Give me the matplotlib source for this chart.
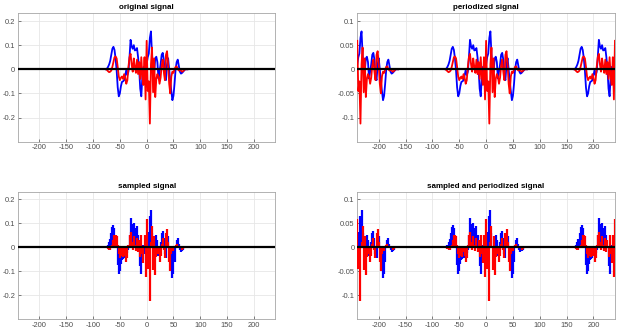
import numpy as np
import matplotlib
matplotlib.use('Agg')
import matplotlib.pyplot as plt

plt.rcParams['font.family'] = ['Liberation Sans', 'DejaVu Sans']
plt.rcParams['axes.unicode_minus'] = False

# sample positions of the original signal (step 2)
t = np.arange(-76, 77, 2)

sig_re = [0.0, 0.003, 0.01, 0.02, 0.035, 0.06, 0.085, 0.093, 0.08, 0.045,
          -0.005, -0.075, -0.112, -0.1, -0.07, -0.052, -0.05, -0.045, -0.025, -0.003,
          -0.024, -0.01, 0.05, 0.122, 0.095, 0.085, 0.1, 0.078, 0.08, 0.088,
          0.05, 0.0, -0.08, -0.112, -0.03, 0.01, -0.03, -0.052, 0.02, 0.05,
          0.065, 0.13, 0.157, 0.06, 0.0, -0.01, 0.045, 0.052, 0.03, -0.038,
          -0.01, 0.02, 0.06, 0.068, 0.04, -0.03, -0.045, 0.02, 0.046, 0.0,
          -0.05, -0.09, -0.128, -0.11, -0.06, 0.0, 0.03, 0.04, 0.015, -0.01,
          -0.018, -0.015, -0.01, -0.005, 0.0, 0.0, 0.0]

# imaginary part (red)
sig_im = [0.0, -0.003, -0.008, -0.012, -0.01, -0.005, 0.01, 0.03, 0.05, 0.053,
          0.045, 0.01, -0.03, -0.045, -0.035, -0.03, -0.04, -0.02, -0.035, -0.06,
          -0.045, 0.01, 0.05, 0.064, 0.02, -0.01, 0.045, 0.01, -0.015, 0.04,
          -0.02, 0.03, -0.04, 0.05, -0.03, -0.065, 0.05, -0.125, 0.118, -0.09,
          -0.05, -0.225, 0.02, 0.09, -0.095, 0.045, -0.115, -0.04, -0.02, -0.03,
          -0.06, -0.035, 0.015, 0.04, -0.01, -0.045, 0.06, 0.075, 0.02, -0.06,
          -0.1, -0.03, -0.01, -0.015, 0.0, 0.01, 0.012, 0.0, -0.005, -0.003,
          -0.005, -0.01, -0.008, -0.003, 0.0, 0.0, 0.0]

period = 240
period_gain = 0.5
shifts = [-1, 0, 1]

titles = ['original signal', 'periodized signal', 'sampled signal', 'sampled and periodized signal']
xticks = [-200, -150, -100, -50, 0, 50, 100, 150, 200]
yticks_orig = [-0.2, -0.1, 0, 0.1, 0.2]
ytick_labels_orig = ['-0.2', '-0.1', '0', '0.1', '0.2']
yticks_per = [-0.1, -0.05, 0, 0.05, 0.1]
ytick_labels_per = ['-0.1', '-0.05', '0', '0.05', '0.1']

re = np.array(sig_re)
im = np.array(sig_im)

# periodized copies, cut to the visible window
tp, rp, ip = [], [], []
for k in shifts:
    tt = t + k * period
    m = (tt >= -period) & (tt <= period)
    tp.append(tt[m])
    rp.append(re[m] * period_gain)
    ip.append(im[m] * period_gain)

fig = plt.figure(figsize=(6.17, 3.33), dpi=100)
pos = [[0.0292, 0.5745, 0.417, 0.3856],
       [0.579, 0.5745, 0.4177, 0.3856],
       [0.0292, 0.042, 0.417, 0.3823],
       [0.579, 0.042, 0.4177, 0.3823]]
axes = [fig.add_axes(p) for p in pos]

blue = '#0000ff'
red = '#ff0000'
stem_w = 1.6

# original
ax = axes[0]
ax.plot(t, re, color=blue, lw=1.3, zorder=3)
ax.plot(t, im, color=red, lw=1.3, zorder=3)

# periodized
ax = axes[1]
for a, b, c in zip(tp, rp, ip):
    ax.plot(a, b, color=blue, lw=1.3, zorder=3)
    ax.plot(a, c, color=red, lw=1.3, zorder=3)

# sampled
ax = axes[2]
ax.vlines(t, 0, re, color=blue, lw=stem_w, zorder=3)
ax.vlines(t, 0, im, color=red, lw=stem_w, zorder=3)

# sampled and periodized
ax = axes[3]
for a, b, c in zip(tp, rp, ip):
    ax.vlines(a, 0, b, color=blue, lw=stem_w, zorder=3)
    ax.vlines(a, 0, c, color=red, lw=stem_w, zorder=3)

for i, ax in enumerate(axes):
    ax.axhline(0, color='black', lw=1.6, zorder=4)
    ax.set_xlim(-240, 240)
    ax.set_xticks(xticks)
    ax.set_xticklabels([str(v) for v in xticks])
    if i % 2 == 0:
        ax.set_ylim(-0.30, 0.232)
        ax.set_yticks(yticks_orig)
        ax.set_yticklabels(ytick_labels_orig)
    else:
        ax.set_ylim(-0.15, 0.116)
        ax.set_yticks(yticks_per)
        ax.set_yticklabels(ytick_labels_per)
    ax.grid(True, color='#e6e6e6', lw=0.6, zorder=0)
    ax.set_axisbelow(True)
    ax.tick_params(direction='in', length=2, width=0.5, colors='#4d4d4d',
                   labelsize=5.4, pad=2)
    for s in ax.spines.values():
        s.set_color('#a6a6a6')
        s.set_linewidth(0.6)
    ax.set_title(titles[i], fontsize=5.8, fontweight='bold', pad=3)

fig.savefig('out.png', dpi=100)
